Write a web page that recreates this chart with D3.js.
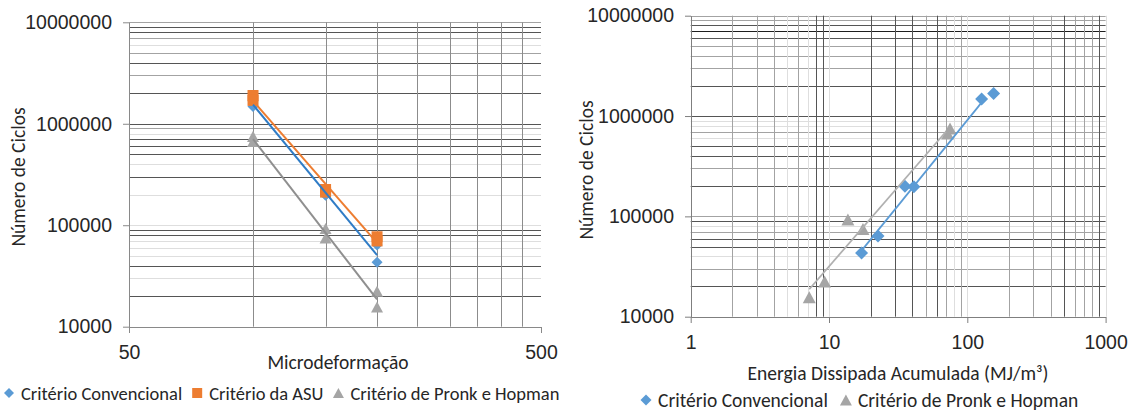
<!doctype html>
<html lang="pt">
<head>
<meta charset="utf-8">
<script src="https://cdn.jsdelivr.net/npm/d3@7"></script>
<style>
  body { margin:0; background:#fff; }
  svg { display:block; font-family: Carlito, Calibri, Lato, sans-serif; }
  text { fill:#262626; }
</style>
<title>Microdeformação / Energia dissipada x Número de ciclos</title>
</head>
<body>
<svg id="chart" width="1132" height="412"></svg>
<script>
// ensaios de fadiga - as mesmas amostras nos dois graficos
const strain = [100, 100, 150, 150, 200, 200];
const ciclosConvencional = [1480000, 1680000, 200000, 197000, 63800, 43200];
const ciclosASU = [1900000, 1700000, 225000, 212000, 77000, 70000];
const ciclosPronk = [751000, 670000, 93000, 74700, 22400, 15600];
const energiaConvencional = [127, 155, 35.4, 41.1, 22.6, 17.2];
const energiaPronk = [75, 72, 13.7, 17.6, 9.3, 7.2];

const serieNames = ["Critério Convencional", "Critério da ASU", "Critério de Pronk e Hopman"];
const yTicks = [10000, 100000, 1000000, 10000000];
const strainTicks = [50, 500];
const energyTicks = [1, 10, 100, 1000];

// gridline shades, multiples 1..9 of each decade (the original is a raster with uneven lines)
const shade = {k:"#1e1e1e", d:"#555", m:"#a3a3a3", l:"#dedede"};
const leftYShade = {4:"-dldllldd", 5:"lldldddlm", 6:"ddmdmlmdd", 7:"m"};
const rightYShade = {4:"-dmlddmld", 5:"mdmddlmll", 6:"ddmmmdkdm", 7:"m"};
const rightXShade = {0:"-mmmlmldd", 1:"ldddmdmlm", 2:"lmmmdmmmd", 3:"l"};

const tickFont = 19.5, titleFont = 19.5;

const svg = d3.select("#chart");

function shadeOf(v, table) {
  const e = Math.floor(Math.log10(v) + 1e-9);
  const m = Math.round(v / Math.pow(10, e));
  return (table[e] || "m")[m - 1] || "m";
}

// Excel-like power trendline, least squares in log-log
function powerFit(xs, ys) {
  const lx = xs.map(Math.log10), ly = ys.map(Math.log10);
  const mx = d3.mean(lx), my = d3.mean(ly);
  const b = d3.sum(lx, (d, i) => (d - mx) * (ly[i] - my)) / d3.sum(lx, d => (d - mx) * (d - mx));
  return x => Math.pow(10, my + b * (Math.log10(x) - mx));
}

const triangle = {
  draw(ctx, size) {
    const w = Math.sqrt(size), h = w * 0.92;
    ctx.moveTo(0, -h / 2);
    ctx.lineTo(w / 2, h / 2);
    ctx.lineTo(-w / 2, h / 2);
    ctx.closePath();
  }
};

function markerPath(kind, s) {
  if (kind == "diamond") return d3.symbol(d3.symbolSquare, s * s / 2)();
  if (kind == "square") return d3.symbol(d3.symbolSquare, s * s)();
  return d3.symbol(triangle, s * s)();
}

function drawPanel(p) {
  const g = svg.append("g");
  const [x0, x1] = p.x.range();
  const [y0, y1] = p.y.range();

  // gridlines, light ones first
  const order = {l:0, m:1, d:2, k:3};
  const hLines = p.y.ticks().filter(v => v > 10000).map(v => ({v, s: shadeOf(v, p.yShade)}));
  hLines.sort((a, b) => order[a.s] - order[b.s]);
  g.append("g").selectAll("line").data(hLines).join("line")
    .attr("x1", x0).attr("x2", x1)
    .attr("y1", d => Math.round(p.y(d.v)) + 0.5).attr("y2", d => Math.round(p.y(d.v)) + 0.5)
    .attr("stroke", d => shade[d.s]).attr("stroke-width", 1);

  const vLines = p.xGrid.map(v => ({v, s: p.xShade ? shadeOf(v, p.xShade) : "x"}));
  vLines.sort((a, b) => (order[a.s] || 1) - (order[b.s] || 1));
  g.append("g").selectAll("line").data(vLines).join("line")
    .attr("y1", y0).attr("y2", y1)
    .attr("x1", d => Math.round(p.x(d.v)) + 0.5).attr("x2", d => Math.round(p.x(d.v)) + 0.5)
    .attr("stroke", d => d.s == "x" ? "#8c8c8c" : shade[d.s]).attr("stroke-width", 1);

  // axes
  const yAxis = d3.axisLeft(p.y).tickValues(yTicks).tickFormat(d3.format("d"))
    .tickSize(6).tickSizeOuter(0).tickPadding(11);
  const ya = g.append("g").attr("transform", `translate(${Math.round(x0)},0)`).call(yAxis);
  const xAxis = d3.axisBottom(p.x).tickValues(p.xTicks).tickFormat(d3.format("d"))
    .tickSize(6).tickSizeOuter(0).tickPadding(12);
  const xa = g.append("g").attr("transform", `translate(0,${Math.round(y0)})`).call(xAxis);
  [ya, xa].forEach(a => {
    a.select(".domain").attr("stroke", p.axisColor);
    a.selectAll(".tick line").attr("stroke", p.axisColor);
    a.selectAll("text").attr("font-size", tickFont).attr("fill", "#262626");
  });

  g.append("text").attr("x", p.xTitle[1]).attr("y", p.xTitle[2])
    .attr("text-anchor", "middle").attr("dominant-baseline", "central")
    .attr("font-size", titleFont).text(p.xTitle[0]);
  g.append("text").attr("transform", `translate(${p.yTitle[0]},${p.yTitle[1]}) rotate(-90)`)
    .attr("text-anchor", "middle").attr("dominant-baseline", "central")
    .attr("font-size", titleFont).text("Número de Ciclos");

  // series markers
  p.series.forEach(s => {
    g.append("g").selectAll("path").data(s.xs).join("path")
      .attr("d", markerPath(s.kind, s.size))
      .attr("transform", (d, i) => `translate(${p.x(d)},${p.y(s.ys[i])})` + (s.kind == "diamond" ? " rotate(45)" : ""))
      .attr("fill", s.color);
  });

  // trendlines on top
  const line = d3.line().x(d => p.x(d[0])).y(d => p.y(d[1]));
  p.series.forEach(s => {
    const f = powerFit(s.xs, s.ys);
    g.append("path")
      .attr("d", line(s.trend.map(x => [x, f(x)])))
      .attr("fill", "none").attr("stroke", s.lineColor).attr("stroke-width", p.lineWidth);
  });

  // legend
  const lg = g.append("g").attr("transform", `translate(${p.legend[0]},${p.legend[1]})`);
  let cx = 0;
  p.series.forEach(s => {
    lg.append("path").attr("d", markerPath(s.kind, s.legendSize))
      .attr("transform", `translate(${cx},0)` + (s.kind == "diamond" ? " rotate(45)" : ""))
      .attr("fill", s.color);
    const t = lg.append("text").attr("x", cx + 12).attr("y", 0)
      .attr("dominant-baseline", "central").attr("font-size", p.legendFont).text(s.name);
    cx += 12 + t.node().getComputedTextLength() + p.legendGap;
  });
}

const blue = "#5b9bd5", orange = "#ed7d31", gray = "#a5a5a5";

drawPanel({
  x: d3.scaleLog().domain([50, 500]).range([129, 541]),
  y: d3.scaleLog().domain([10000, 10000000]).range([326.7, 22.3]),
  xGrid: d3.range(100, 500, 50),
  xShade: null,
  yShade: leftYShade,
  xTicks: strainTicks,
  axisColor: "#898989",
  xTitle: ["Microdeformação", 338, 362],
  yTitle: [18, 177],
  lineWidth: 2,
  legend: [9, 393],
  legendGap: 15,
  legendFont: 18.5,
  series: [
    {name: serieNames[0], xs: strain, ys: ciclosConvencional, kind: "diamond", size: 11, legendSize: 10,
     color: blue, lineColor: "#2f7cc6", trend: [100, 200]},
    {name: serieNames[1], xs: strain, ys: ciclosASU, kind: "square", size: 11, legendSize: 10,
     color: orange, lineColor: orange, trend: [100, 200]},
    {name: serieNames[2], xs: strain, ys: ciclosPronk, kind: "triangle", size: 12, legendSize: 11,
     color: gray, lineColor: "#8f8f8f", trend: [100, 200]}
  ]
});

drawPanel({
  x: d3.scaleLog().domain([1, 1000]).range([690.7, 1105.6]),
  y: d3.scaleLog().domain([10000, 10000000]).range([316.7, 15.7]),
  xGrid: d3.scaleLog().domain([1, 1000]).ticks().filter(v => v > 1),
  xShade: rightXShade,
  yShade: rightYShade,
  xTicks: energyTicks,
  axisColor: "#7f7f7f",
  xTitle: ["Energia Dissipada Acumulada (MJ/m³)", 898, 373],
  yTitle: [586, 170],
  lineWidth: 1.75,
  legend: [646, 400],
  legendGap: 18,
  legendFont: 19.5,
  series: [
    {name: serieNames[0], xs: energiaConvencional, ys: ciclosConvencional, kind: "diamond", size: 13, legendSize: 11,
     color: blue, lineColor: blue, trend: [17.2, 128]},
    {name: serieNames[2], xs: energiaPronk, ys: ciclosPronk, kind: "triangle", size: 13, legendSize: 12,
     color: gray, lineColor: "#b0b0b0", trend: [7.2, 70]}
  ]
});
</script>
</body>
</html>
